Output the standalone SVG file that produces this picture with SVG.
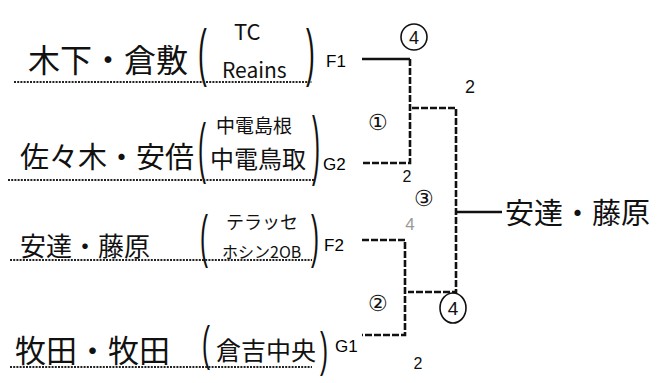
<svg xmlns="http://www.w3.org/2000/svg" width="661" height="383" viewBox="0 0 661 383">
<style>
.name{font-family:"Noto Sans CJK JP","Noto Sans",sans-serif;fill:#111}
.sub{font-family:"Noto Sans CJK JP","Noto Sans",sans-serif;fill:#111}
.par{font-family:"Liberation Sans",sans-serif;fill:#111}
.code{font-family:"Liberation Sans",Arial,sans-serif;font-size:17px;fill:#000}
.ul{stroke:#222;stroke-width:2;stroke-dasharray:2 1.2;fill:none}
.ln{stroke:#111;stroke-width:2.6;stroke-dasharray:7 2;fill:none}
.solid{stroke:#111;stroke-width:2.6;fill:none}
.hand{font-family:"Liberation Sans",sans-serif;fill:#111}
.circ{fill:none;stroke:#111;stroke-width:1.6}
</style>
<rect width="661" height="383" fill="#fff"/>
<g id="team-F1">
<text class="name" x="28" y="72" font-size="32">木下・倉敷</text>
<text class="par" x="0" y="0" font-size="48" transform="translate(198,74) scale(0.55,1.3)">(</text>
<text class="sub" x="234" y="40" font-size="22">TC</text>
<text class="sub" x="222" y="78" font-size="21">Reains</text>
<text class="par" x="0" y="0" font-size="48" transform="translate(306,74) scale(0.55,1.3)">)</text>
<text class="code" x="326" y="67">F1</text>
<line class="ul" x1="14" y1="82" x2="312" y2="82"/>
</g>
<g id="team-G2">
<text class="name" x="20" y="168" font-size="29">佐々木・安倍</text>
<text class="par" x="0" y="0" font-size="48" transform="translate(198,170) scale(0.5,1.4)">(</text>
<text class="sub" x="216" y="133" font-size="19">中電島根</text>
<text class="sub" x="210" y="168" font-size="24">中電鳥取</text>
<text class="par" x="0" y="0" font-size="48" transform="translate(312,170) scale(0.5,1.6)">)</text>
<text class="code" x="323" y="170">G2</text>
<line class="ul" x1="8" y1="180" x2="315" y2="180"/>
</g>
<g id="team-F2">
<text class="name" x="20" y="256" font-size="26">安達・藤原</text>
<text class="par" x="0" y="0" font-size="48" transform="translate(200,256) scale(0.5,1.2)">(</text>
<text class="sub" x="226" y="229" font-size="18">テラッセ</text>
<text class="sub" x="222" y="258" font-size="16">ホシン2OB</text>
<text class="par" x="0" y="0" font-size="48" transform="translate(311,256) scale(0.5,1.2)">)</text>
<text class="code" x="324" y="251">F2</text>
<line class="ul" x1="10" y1="260" x2="312" y2="260"/>
</g>
<g id="team-G1">
<text class="name" x="15" y="362" font-size="31">牧田・牧田</text>
<text class="par" x="0" y="0" font-size="48" transform="translate(202,360) scale(0.5,1.0)">(</text>
<text class="sub" x="216" y="360" font-size="25">倉吉中央</text>
<text class="par" x="0" y="0" font-size="48" transform="translate(320,366) scale(0.5,1.0)">)</text>
<text class="code" x="335" y="352">G1</text>
<line class="ul" x1="10" y1="367" x2="312" y2="367"/>
</g>
<g id="connectors">
<polyline class="solid" points="362,59 410,59"/>
<polyline class="ln" points="410,59 410,163 363,163"/>
<polyline class="ln" points="412,108 456,108 456,292 408,292"/>
<polyline class="ln" points="362,240 405,240 405,335 362,335"/>
<polyline class="solid" points="456,212 502,212"/>
</g>
<g id="match-1">
<text class="hand" x="378" y="130" font-size="22" text-anchor="middle">①</text>
<circle class="circ" cx="414" cy="37" r="13"/>
<text class="hand" x="414" y="44" font-size="18" text-anchor="middle">4</text>
<text class="hand" x="407" y="182" font-size="16" text-anchor="middle">2</text>
</g>
<g id="match-2">
<text class="hand" x="378" y="311" font-size="22" text-anchor="middle">②</text>
<text class="hand" x="418" y="369" font-size="16" text-anchor="middle">2</text>
</g>
<g id="match-final">
<text class="hand" x="424" y="206" font-size="22" text-anchor="middle">③</text>
<text class="hand" x="410" y="230" font-size="17" text-anchor="middle" style="fill:#999">4</text>
<text class="hand" x="470" y="93" font-size="18" text-anchor="middle">2</text>
<ellipse class="circ" cx="453" cy="308" rx="13" ry="15"/>
<text class="hand" x="453" y="315" font-size="19" text-anchor="middle">4</text>
</g>
<g id="winner">
<text class="name" x="505" y="224" font-size="29">安達・藤原</text>
</g>
</svg>
